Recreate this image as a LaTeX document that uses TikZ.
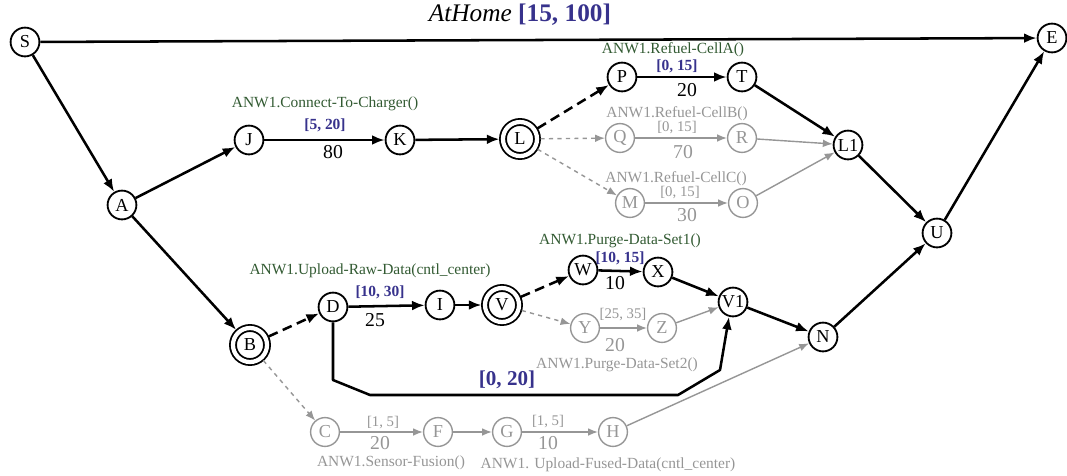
\documentclass[tikz,border=0pt]{standalone}
\usepackage{fontspec}
\setmainfont{Liberation Serif}
\usepackage{xcolor}
\usetikzlibrary{arrows.meta}
\definecolor{actgreen}{RGB}{50,90,50}
\definecolor{ivblue}{RGB}{55,50,140}
\definecolor{offgray}{RGB}{150,150,150}
\tikzset{
  st/.style={circle, draw, line width=1.3pt, minimum size=0.72cm, inner sep=0pt, font=\fontsize{13}{13}\selectfont},
  dst/.style={st, minimum size=0.85cm, double, double distance=3pt, outer sep=2.5pt},
  gst/.style={st, draw=offgray, text=offgray, line width=1pt},
  arr/.style={line width=1.8pt, -{Latex[length=9pt,width=7pt]}},
  dsh/.style={arr, dash pattern=on 7pt off 4pt},
  garr/.style={draw=offgray, line width=1pt, -{Latex[length=7pt,width=5.5pt]}},
  gdsh/.style={garr, dash pattern=on 3pt off 3pt},
  act/.style={font=\fontsize{11}{11}\selectfont, text=actgreen, inner sep=0pt},
  gact/.style={act, text=offgray},
  ivl/.style={font=\fontsize{11}{11}\selectfont\bfseries, text=ivblue, inner sep=0pt},
  givl/.style={font=\fontsize{10.5}{10.5}\selectfont, text=offgray, inner sep=0pt},
  wt/.style={font=\fontsize{14}{14}\selectfont, inner sep=0pt},
  gwt/.style={wt, text=offgray}
}
\begin{document}
\begin{tikzpicture}[x=0.025cm, y=-0.025cm]
\useasboundingbox (0,0) rectangle (1067,475);
% states
\node[st] (S) at (25,42) {S};
\node[st] (E) at (1052,38) {E};
\node[st] (A) at (122,205) {A};
\node[st] (J) at (249,140) {J};
\node[st] (K) at (400,140) {K};
\node[dst] (L) at (520,139) {L};
\node[st] (P) at (622,77) {P};
\node[st] (T) at (742,77) {T};
\node[gst] (Q) at (620,138) {Q};
\node[gst] (R) at (742,138) {R};
\node[gst] (M) at (630,203) {M};
\node[gst] (O) at (743,203) {O};
\node[st] (L1) at (848,145) {L1};
\node[st] (U) at (937,233) {U};
\node[dst] (B) at (250,345) {B};
\node[st] (D) at (333,307) {D};
\node[st] (I) at (440,305) {I};
\node[dst] (V) at (502,305) {V};
\node[st] (W) at (583,270) {W};
\node[st] (X) at (658,272) {X};
\node[gst] (Y) at (585,328) {Y};
\node[gst] (Z) at (662,328) {Z};
\node[st] (V1) at (733,302) {V1};
\node[st] (N) at (823,337) {N};
\node[gst] (C) at (325,432) {C};
\node[gst] (F) at (438,432) {F};
\node[gst] (G) at (507,432) {G};
\node[gst] (H) at (613,432) {H};
\coordinate (d1) at (333,380);
\coordinate (d2) at (370,395);
\coordinate (d3) at (678,395);
\coordinate (d4) at (720,370);
% labels
\node[font=\fontsize{18}{18}\selectfont, inner sep=0pt] (ttl) at (520,15) {\textit{AtHome} \textcolor{ivblue}{\textbf{[15, 100]}}};
\node[act] (aJK) at (325,104) {ANW1.Connect-To-Charger()};
\node[ivl] (iJK) at (325,125) {[5, 20]};
\node[wt] (wJK) at (333,152) {80};
\node[act] (aPT) at (673,50) {ANW1.Refuel-CellA()};
\node[ivl] (iPT) at (677,66) {[0, 15]};
\node[wt] (wPT) at (687,90) {20};
\node[gact] (aQR) at (677,114) {ANW1.Refuel-CellB()};
\node[givl] (iQR) at (677,128) {[0, 15]};
\node[gwt] (wQR) at (683,152) {70};
\node[gact] (aMO) at (676,179) {ANW1.Refuel-CellC()};
\node[givl] (iMO) at (680,193) {[0, 15]};
\node[gwt] (wMO) at (687,215) {30};
\node[act] (aWX) at (620,241) {ANW1.Purge-Data-Set1()};
\node[ivl] (iWX) at (620,258) {[10, 15]};
\node[wt] (wWX) at (615,283) {10};
\node[act] (aDI) at (370,271) {ANW1.Upload-Raw-Data(cntl\_center)};
\node[ivl] (iDI) at (380,292) {[10, 30]};
\node[wt] (wDI) at (375,320) {25};
\node[givl] (iYZ) at (623,315) {[25, 35]};
\node[gwt] (wYZ) at (615,345) {20};
\node[gact] (aYZ) at (617,365) {ANW1.Purge-Data-Set2()};
\node[font=\fontsize{15}{15}\selectfont\bfseries, text=ivblue, inner sep=0pt] (iDV) at (507,380) {[0, 20]};
\node[givl] (iCF) at (383,423) {[1, 5]};
\node[gwt] (wCF) at (380,443) {20};
\node[gact] (aCF) at (391,463) {ANW1.Sensor-Fusion()};
\node[givl] (iGH) at (548,422) {[1, 5]};
\node[gwt] (wGH) at (548,443) {10};
\node[gact] (aGH) at (608,465) {ANW1. Upload-Fused-Data(cntl\_center)};
% edges
\draw[arr] (S) -- (E);
\draw[arr] (S) -- (A);
\draw[arr] (A) -- (J);
\draw[arr] (J) -- (K);
\draw[arr] (K) -- (L);
\draw[dsh] (L) -- (P);
\draw[arr] (P) -- (T);
\draw[arr] (T) -- (L1);
\draw[gdsh] (L) -- (Q);
\draw[garr] (Q) -- (R);
\draw[garr] (R) -- (L1);
\draw[gdsh] (L) -- (M);
\draw[garr] (M) -- (O);
\draw[garr] (O) -- (L1);
\draw[arr] (L1) -- (U);
\draw[arr] (U) -- (E);
\draw[arr] (A) -- (B);
\draw[dsh] (B) -- (D);
\draw[arr] (D) -- (I);
\draw[arr] (I) -- (V);
\draw[dsh] (V) -- (W);
\draw[arr] (W) -- (X);
\draw[arr] (X) -- (V1);
\draw[gdsh] (V) -- (Y);
\draw[garr] (Y) -- (Z);
\draw[garr] (Z) -- (V1);
\draw[arr] (V1) -- (N);
\draw[arr] (N) -- (U);
\draw[arr, line join=round] (D) -- (d1) -- (d2) -- (d3) -- (d4) -- (V1.-105);
\draw[gdsh] (B) -- (C);
\draw[garr] (C) -- (F);
\draw[garr] (F) -- (G);
\draw[garr] (G) -- (H);
\draw[garr] (H) -- (N);
\end{tikzpicture}
\end{document}
